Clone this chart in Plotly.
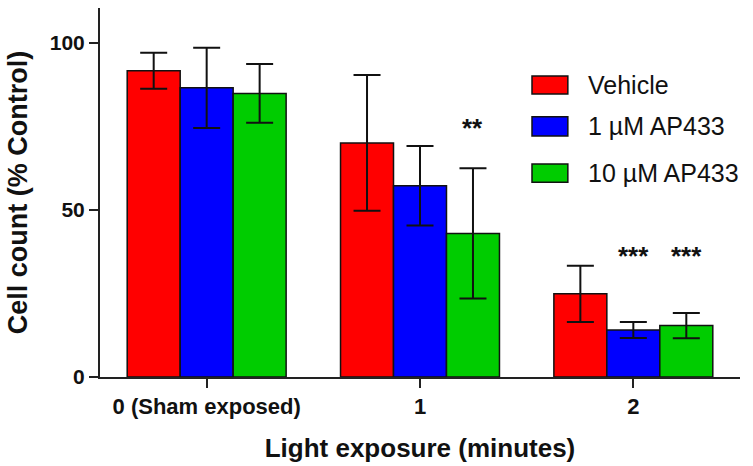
import plotly.graph_objects as go

# Cell counts after light exposure, as % of control (mean ± error)
categories = ["0 (Sham exposed)", "1", "2"]
series_names = ["Vehicle", "1 µM AP433", "10 µM AP433"]
means = [
    [91.7, 70.1, 24.9],   # Vehicle
    [86.6, 57.3, 14.1],   # 1 µM AP433
    [84.9, 43.0, 15.4],   # 10 µM AP433
]
errors = [
    [5.4, 20.3, 8.4],
    [12.0, 11.9, 2.4],
    [8.8, 19.5, 3.8],
]
# Significance marks: (series index, category index, label, height)
sig_marks = [
    (2, 1, "**", 75.4),
    (1, 2, "***", 37.1),
    (2, 2, "***", 37.1),
]

colors = ["#FF0000", "#0000FF", "#00CC00"]
FONT = "Liberation Sans, Arial, sans-serif"
BARGAP = 0.255

fig = go.Figure()
for name, vals, errs, col in zip(series_names, means, errors, colors):
    fig.add_trace(go.Bar(
        x=categories, y=vals, name=name,
        marker=dict(color=col, line=dict(color="#111111", width=1.5)),
        error_y=dict(type="data", array=errs, visible=True,
                     color="#111111", thickness=2, width=13.5),
        showlegend=False,
    ))

# Star annotations centred over their bars
bar_w = (1 - BARGAP) / len(series_names)
for s_idx, c_idx, label, height in sig_marks:
    fig.add_annotation(
        x=c_idx + (s_idx - 1) * bar_w, y=height, xref="x", yref="y",
        text=f"<b>{label}</b>", showarrow=False,
        font=dict(family=FONT, size=26, color="#111111"),
        xanchor="center", yanchor="middle", yshift=-3,
    )

# Legend drawn as boxes with labels on the right side
leg_x0, leg_x1 = 0.675, 0.731
leg_rows = [(0.767, 0.816), (0.653, 0.705), (0.528, 0.577)]
for name, col, (y0, y1) in zip(series_names, colors, leg_rows):
    fig.add_shape(type="rect", xref="paper", yref="paper",
                  x0=leg_x0, x1=leg_x1, y0=y0, y1=y1,
                  fillcolor=col, line=dict(color="#111111", width=1.5))
    fig.add_annotation(
        x=0.760, y=(y0 + y1) / 2, xref="paper", yref="paper",
        text=name, showarrow=False, xanchor="left", yanchor="middle",
        font=dict(family=FONT, size=25, color="#111111"),
    )

fig.update_layout(
    width=753, height=466,
    margin=dict(l=100, r=13, t=8, b=89),
    paper_bgcolor="white", plot_bgcolor="white",
    barmode="group", bargap=BARGAP, bargroupgap=0,
    font=dict(family=FONT, color="#111111"),
    xaxis=dict(
        type="category", range=[-0.5, 2.5],
        showline=True, linecolor="#222222", linewidth=2,
        ticks="outside", ticklen=9, tickwidth=2, tickcolor="#222222",
        tickfont=dict(family=FONT, size=22, color="#111111", weight="bold"),
        title=dict(text="Light exposure (minutes)",
                   font=dict(family=FONT, size=26, color="#111111",
                             weight="bold"),
                   standoff=20),
        showgrid=False, zeroline=False,
    ),
    yaxis=dict(
        range=[0, 110.5], tickvals=[0, 50, 100],
        showline=True, linecolor="#222222", linewidth=2,
        ticks="outside", ticklen=9, tickwidth=2, tickcolor="#222222",
        tickfont=dict(family=FONT, size=21, color="#111111", weight="bold"),
        title=dict(text="Cell count (% Control)",
                   font=dict(family=FONT, size=27, color="#111111",
                             weight="bold"),
                   standoff=14),
        showgrid=False, zeroline=False,
    ),
)

fig.write_html("out.html")
